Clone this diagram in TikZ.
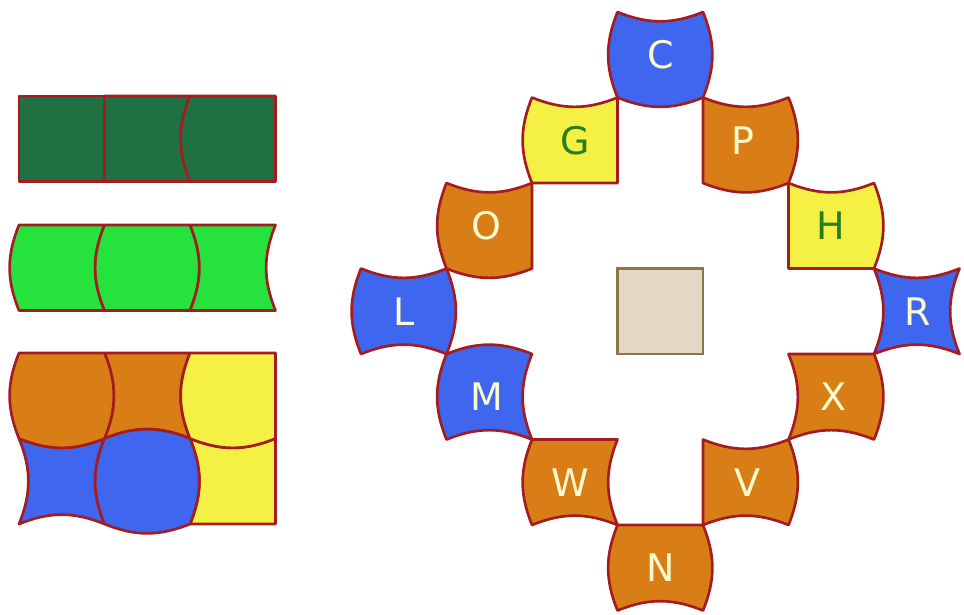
\documentclass[tikz,border=0pt]{standalone}
\usepackage{fontspec}
\setmainfont{DejaVu Sans}

\definecolor{bordo}{RGB}{165,28,32}
\definecolor{verdescuro}{RGB}{31,113,68}
\definecolor{verdechiaro}{RGB}{38,226,60}
\definecolor{arancio}{RGB}{217,126,22}
\definecolor{giallo}{RGB}{244,240,68}
\definecolor{blu}{RGB}{62,102,238}
\definecolor{beige}{RGB}{228,216,196}
\definecolor{beigebordo}{RGB}{140,117,72}
\definecolor{crema}{RGB}{255,250,205}
\definecolor{verdelettera}{RGB}{40,125,30}

\def\lato{85.5}

\tikzset{
    esterno/.style={bend left=22},
    interno/.style={bend right=22},
    dritto/.style={},
    tessera/.style={draw=bordo, line width=1.9pt, line join=round},
    lettera/.style={font=\fontsize{27}{30}\selectfont, text=crema},
}

% tessera: angolo in alto a sinistra, lati (sopra, destra, sotto, sinistra), colore
\newcommand{\tessera}[7]{%
    \draw[tessera, fill=#7] (#1,#2) to[#3] ++(\lato,0) to[#4] ++(0,\lato)
        to[#5] ++(-\lato,0) to[#6] (#1,#2) -- cycle;}

\begin{document}
\begin{tikzpicture}[x=0.025cm, y=-0.025cm]
    \useasboundingbox (0,0) rectangle (964,614);

    % Striscia verde scuro
    \tessera{19}{96}{dritto}{dritto}{dritto}{dritto}{verdescuro}
    \tessera{104.5}{96}{dritto}{interno}{dritto}{dritto}{verdescuro}
    \tessera{190}{96}{dritto}{dritto}{dritto}{esterno}{verdescuro}

    % Striscia verde chiaro
    \tessera{19}{225}{dritto}{interno}{dritto}{esterno}{verdechiaro}
    \tessera{104.5}{225}{dritto}{esterno}{dritto}{esterno}{verdechiaro}
    \tessera{190}{225}{dritto}{interno}{dritto}{interno}{verdechiaro}

    % Blocco 2x3
    \tessera{104.5}{353}{dritto}{interno}{interno}{interno}{arancio}
    \tessera{19}{438.5}{interno}{interno}{interno}{interno}{blu}
    \tessera{190}{438.5}{interno}{dritto}{dritto}{interno}{giallo}
    \tessera{19}{353}{dritto}{esterno}{esterno}{esterno}{arancio}
    \tessera{190}{353}{dritto}{dritto}{esterno}{esterno}{giallo}
    \tessera{104.5}{438.5}{esterno}{esterno}{esterno}{esterno}{blu}

    % Anello di tessere
    \tessera{617.5}{12}{interno}{esterno}{esterno}{esterno}{blu}
    \tessera{532}{97.5}{interno}{dritto}{dritto}{esterno}{giallo}
    \tessera{703}{97.5}{interno}{esterno}{esterno}{dritto}{arancio}
    \tessera{446.5}{183}{interno}{dritto}{esterno}{esterno}{arancio}
    \tessera{788.5}{183}{interno}{esterno}{dritto}{dritto}{giallo}
    \tessera{361}{268.5}{interno}{esterno}{interno}{esterno}{blu}
    \tessera{874}{268.5}{interno}{interno}{interno}{interno}{blu}
    \tessera{446.5}{354}{esterno}{interno}{interno}{esterno}{blu}
    \tessera{788.5}{354}{dritto}{esterno}{interno}{interno}{arancio}
    \tessera{532}{439.5}{dritto}{interno}{interno}{esterno}{arancio}
    \tessera{703}{439.5}{interno}{esterno}{interno}{dritto}{arancio}
    \tessera{617.5}{525}{dritto}{esterno}{interno}{esterno}{arancio}

    \draw[draw=beigebordo, fill=beige, line width=1.7pt] (617.5,268.5) rectangle (703,354);

    \node[lettera] (C) at (660.25,54.75) {C};
    \node[lettera, text=verdelettera] (G) at (574.75,140.25) {G};
    \node[lettera] (P) at (743,140.25) {P};
    \node[lettera] (O) at (486,225.75) {O};
    \node[lettera, text=verdelettera] (H) at (831.25,225.75) {H};
    \node[lettera] (L) at (403.75,311.25) {L};
    \node[lettera] (R) at (918,311.25) {R};
    \node[lettera] (M) at (487,396.75) {M};
    \node[lettera] (X) at (833,396.75) {X};
    \node[lettera] (W) at (570,482.25) {W};
    \node[lettera] (V) at (747,482.25) {V};
    \node[lettera] (N) at (660.25,567.75) {N};
\end{tikzpicture}
\end{document}
